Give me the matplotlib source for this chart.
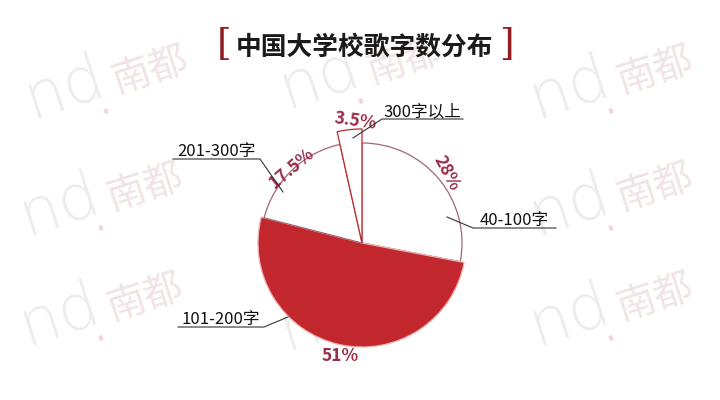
import matplotlib
matplotlib.use("Agg")
import matplotlib.pyplot as plt

plt.rcParams['font.family'] = ['Noto Sans CJK SC', 'DejaVu Sans']

# data
categories = ['40-100字', '101-200字', '201-300字', '300字以上']
shares = [28, 51, 17.5, 3.5]
pct_labels = ['28%', '51%', '17.5%', '3.5%']

red = '#c1272d'
dark_red = '#8f1d22'
pct_color = '#9a2d48'

H = 400


def Y(y):
    # picture rows -> data y
    return H - y


fig = plt.figure(figsize=(7.2, 4.0), dpi=100)
ax = fig.add_axes([0, 0, 1, 1])

# faint "nd.南都" watermarks
for wx, wy in [(65, 88), (320, 78), (570, 88), (60, 205), (570, 205),
               (60, 315), (320, 320), (570, 315)]:
    ax.text(wx, Y(wy), 'nd', fontsize=46, color='#ececec', rotation=18,
            ha='center', va='center', family='DejaVu Sans', fontweight='light',
            zorder=0)
    ax.text(wx + 38, Y(wy + 14), '.', fontsize=28, color='#f3d3d6', rotation=18,
            ha='center', va='center', family='DejaVu Sans', zorder=0)
    ax.text(wx + 85, Y(wy - 18), '南都', fontsize=28, color='#f1e4e4', rotation=18,
            ha='center', va='center', fontweight='light', zorder=0)

fills = ['white', red, 'white', 'white']
explode = [0.02, 0.0, 0.03, 0.03]
wedges, _ = ax.pie(shares, startangle=90, counterclock=False, explode=explode,
                   center=(362, Y(243)), radius=100, colors=fills, frame=True,
                   wedgeprops=dict(edgecolor=red, linewidth=0.9))
for w, r in zip(wedges, [100, 104, 101, 114]):
    w.set_radius(r)
    w.set_zorder(3)
wedges[1].set_edgecolor('#eeb0b0')
wedges[0].set_edgecolor('#a06870')
wedges[2].set_edgecolor('#a06870')

ax.set_xlim(0, 720)
ax.set_ylim(0, H)
ax.set_aspect('equal')
ax.axis('off')

# percent labels along the rim
pct_pos = [(447, 173, -62), (340, 356, 0), (292, 168, 40), (355, 121, -8)]
for txt, (px, py, rot) in zip(pct_labels, pct_pos):
    ax.text(px, Y(py), txt, fontsize=12.5, fontweight='bold', color=pct_color,
            rotation=rot, ha='center', va='center', zorder=5)

# category labels with underline and leader
label_specs = [
    ((447, 217), (473, 228), (556, 228)),
    ((288, 317), (264, 327), (178, 327)),
    ((283, 192), (260, 159), (173, 159)),
    ((353, 138), (382, 119), (463, 119)),
]
for name, (p0, p1, p2) in zip(categories, label_specs):
    ax.plot([p0[0], p1[0], p2[0]], [Y(p0[1]), Y(p1[1]), Y(p2[1])],
            color='#333333', lw=0.8, zorder=5)
    ax.text((p1[0] + p2[0]) / 2, Y(p1[1] + 1), name, fontsize=12, color='#111111',
            ha='center', va='bottom', zorder=5)

# title with red brackets
ax.text(365, Y(47), '中国大学校歌字数分布', fontsize=18.5, fontweight='bold',
        color='#1a1a1a', ha='center', va='center', zorder=5)
ax.text(224, Y(45), '[', fontsize=27, color=dark_red,
        ha='center', va='center', family='DejaVu Serif', zorder=5)
ax.text(506, Y(45), ']', fontsize=27, color=dark_red,
        ha='center', va='center', family='DejaVu Serif', zorder=5)

fig.savefig('out.png', dpi=100, facecolor='white')
